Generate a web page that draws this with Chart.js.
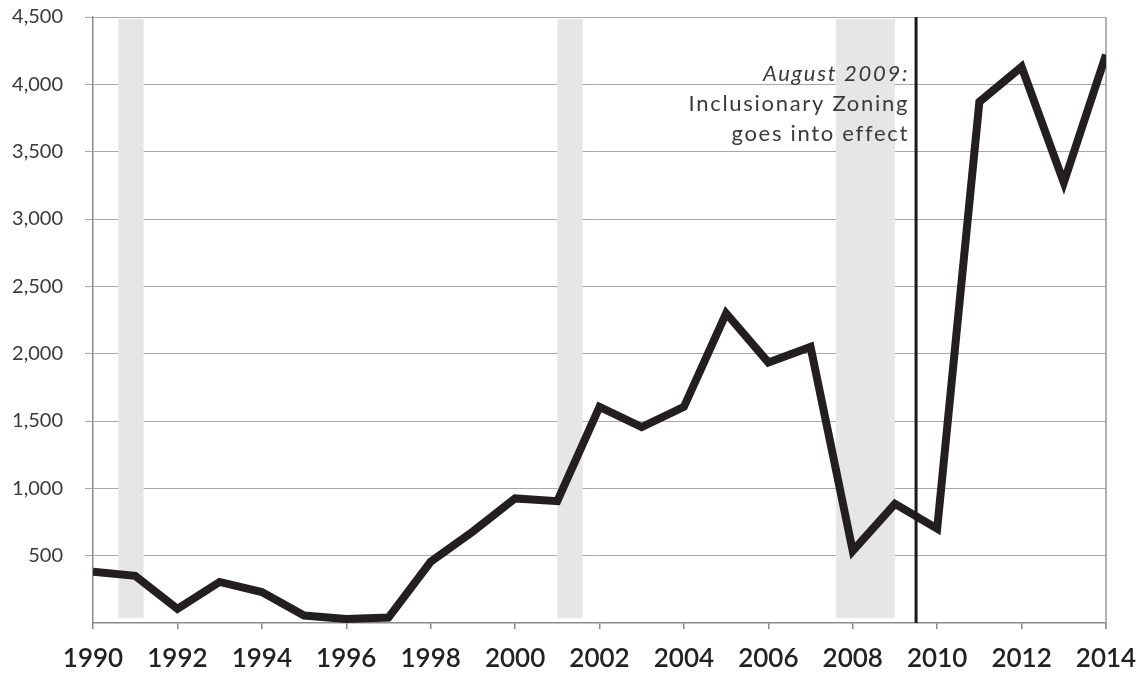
<!DOCTYPE html>
<html>
<head>
<meta charset="utf-8">
<script src="https://cdn.jsdelivr.net/npm/chart.js@4/dist/chart.umd.min.js"></script>
<style>
  html, body { margin: 0; padding: 0; background: #ffffff; }
  #wrap { position: relative; width: 1144px; height: 679px; }
</style>
</head>
<body>
<div id="wrap"><canvas id="chart" width="1144" height="679"></canvas></div>
<script>
// Years and annual values of the series
const years = [1990, 1991, 1992, 1993, 1994, 1995, 1996, 1997, 1998, 1999,
               2000, 2001, 2002, 2003, 2004, 2005, 2006, 2007, 2008, 2009,
               2010, 2011, 2012, 2013, 2014];
const units = [380, 350, 105, 305, 230, 55, 30, 40, 455, 680,
               925, 905, 1605, 1455, 1605, 2300, 1935, 2050, 535, 885,
               700, 3870, 4130, 3270, 4220];

// Recession periods (fractional years) drawn as shaded bands
const bandStarts = [1990.6, 2001.0, 2007.6];
const bandEnds   = [1991.2, 2001.6, 2009.0];

// Policy date marker and its note
const markerYear = 2009.5;
const noteLines = ["August 2009:", "Inclusionary Zoning", "goes into effect"];

// Axis ticks
const yTicks = [500, 1000, 1500, 2000, 2500, 3000, 3500, 4000, 4500];
const xTicks = [1990, 1992, 1994, 1996, 1998, 2000, 2002, 2004, 2006, 2008, 2010, 2012, 2014];

const points = years.map((yr, i) => ({ x: yr, y: units[i] }));

const decorations = {
  id: 'decorations',
  beforeDatasetsDraw(chart) {
    const { ctx, chartArea: a, scales: { x } } = chart;
    ctx.save();
    ctx.fillStyle = '#e6e6e6';
    bandStarts.forEach((s, i) => {
      const x0 = x.getPixelForValue(s);
      const x1 = x.getPixelForValue(bandEnds[i]);
      ctx.fillRect(x0, a.top + 2, x1 - x0, a.bottom - a.top - 7);
    });
    // right frame line
    ctx.strokeStyle = '#9a9a9a';
    ctx.lineWidth = 1.5;
    ctx.beginPath();
    ctx.moveTo(a.right, a.top);
    ctx.lineTo(a.right, a.bottom + 6);
    ctx.stroke();
    ctx.restore();
  },
  afterDatasetsDraw(chart) {
    const { ctx, chartArea: a, scales: { x, y } } = chart;
    const mx = x.getPixelForValue(markerYear);
    ctx.save();
    ctx.strokeStyle = '#1a1a1a';
    ctx.lineWidth = 3;
    ctx.beginPath();
    ctx.moveTo(mx, a.top);
    ctx.lineTo(mx, a.bottom);
    ctx.stroke();

    ctx.textAlign = 'right';
    ctx.textBaseline = 'middle';
    ctx.fillStyle = '#3a3a3a';
    if ('letterSpacing' in ctx) ctx.letterSpacing = '1.7px';
    const tx = mx - 7;
    const y0 = y.getPixelForValue(4000) - 10;
    const gap = 30;
    ctx.font = 'italic 22px Lato, "Open Sans", sans-serif';
    ctx.fillText(noteLines[0], tx, y0);
    ctx.font = '22px Lato, "Open Sans", sans-serif';
    ctx.fillText(noteLines[1], tx, y0 + gap);
    ctx.fillText(noteLines[2], tx, y0 + gap * 2);
    ctx.restore();
  }
};

new Chart(document.getElementById('chart'), {
  type: 'line',
  data: {
    datasets: [{
      data: points,
      borderColor: '#231f20',
      borderWidth: 8,
      borderJoinStyle: 'miter',
      borderCapStyle: 'butt',
      pointRadius: 0,
      tension: 0,
      fill: false
    }]
  },
  options: {
    responsive: false,
    animation: false,
    layout: { padding: { top: 17, right: 38, left: 0, bottom: 0 } },
    plugins: { legend: { display: false }, tooltip: { enabled: false } },
    scales: {
      x: {
        type: 'linear',
        min: 1990,
        max: 2014,
        afterBuildTicks(scale) { scale.ticks = xTicks.map(v => ({ value: v })); },
        afterFit(scale) {
          scale.height = 56;
          scale.paddingLeft = 0;
          scale.paddingRight = 0;
        },
        grid: {
          drawOnChartArea: false,
          drawTicks: true,
          tickLength: 6,
          color: '#8a8a8a',
          lineWidth: 1.5
        },
        border: { color: '#8a8a8a', width: 1.5 },
        ticks: {
          padding: 14,
          maxRotation: 0,
          autoSkip: false,
          color: '#222222',
          font: { family: 'Lato, "Open Sans", sans-serif', size: 26, weight: '600' },
          callback: v => String(v)
        }
      },
      y: {
        min: 0,
        max: 4500,
        afterBuildTicks(scale) { scale.ticks = yTicks.map(v => ({ value: v })); },
        afterFit(scale) {
          scale.width = 93;
          scale.paddingTop = 0;
          scale.paddingBottom = 0;
        },
        grid: {
          color: '#a8a8a8',
          lineWidth: 1,
          tickLength: 8
        },
        border: { color: '#8a8a8a', width: 1.5 },
        ticks: {
          padding: 22,
          color: '#3a3a3a',
          font: { family: 'Lato, "Open Sans", sans-serif', size: 20 },
          callback: v => v.toLocaleString('en-US')
        }
      }
    }
  },
  plugins: [decorations]
});
</script>
</body>
</html>
